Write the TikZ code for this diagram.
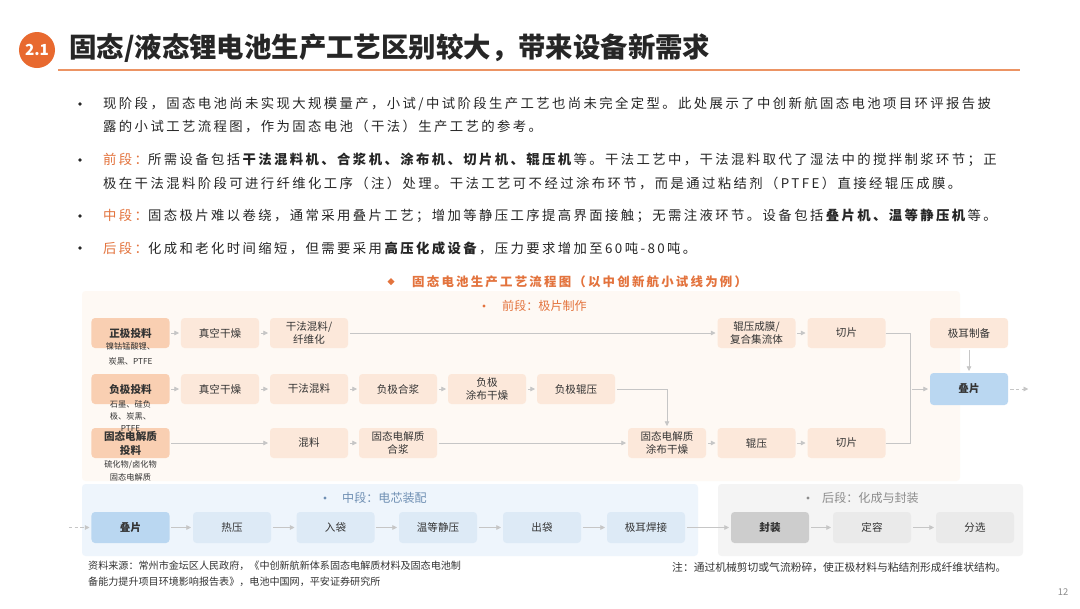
\documentclass[tikz,border=0pt]{standalone}
\usepackage{fontspec}
\setmainfont{Noto Sans CJK SC}
\newfontfamily\spacedcjk{Noto Sans CJK SC}[LetterSpace=18]
\usepackage{tikz}
\usetikzlibrary{arrows.meta}
\usepackage{xcolor}

\definecolor{brandorange}{HTML}{E8692F}
\definecolor{ruleorange}{HTML}{EC9464}
\definecolor{labelorange}{HTML}{E3733D}
\definecolor{cream}{HTML}{FEF9F4}
\definecolor{peach}{HTML}{FCE8DA}
\definecolor{peachdark}{HTML}{F9CFB2}
\definecolor{paleblue}{HTML}{EEF5FC}
\definecolor{cellblue}{HTML}{DDEAF6}
\definecolor{cellbluedark}{HTML}{BAD7F1}
\definecolor{palegrey}{HTML}{F4F4F4}
\definecolor{cellgrey}{HTML}{EAEAEA}
\definecolor{cellgreydark}{HTML}{CDCDCD}
\definecolor{linegrey}{HTML}{C6C6C6}
\definecolor{bodytext}{HTML}{262626}
\definecolor{boxtext}{HTML}{333333}
\definecolor{midlabel}{HTML}{6F8FB3}
\definecolor{backlabel}{HTML}{8C8C8C}

\begin{document}
\begin{tikzpicture}[x=0.03cm, y=-0.03cm,
    stepbox/.style={fill=peach, rounded corners=3pt, minimum width=2.34cm,
      minimum height=0.9cm, inner sep=1pt, align=center, text=boxtext,
      font=\fontsize{9}{11}\selectfont},
    feedbox/.style={stepbox, fill=peachdark, font=\fontsize{9}{12}\selectfont\bfseries},
    feednote/.style={align=center, inner sep=0pt, text=boxtext},
    cellbox/.style={stepbox, fill=cellblue, minimum height=0.93cm},
    backbox/.style={stepbox, fill=cellgrey, minimum height=0.93cm},
    bulletline/.style={anchor=west, inner sep=0pt, text=bodytext,
      font=\spacedcjk\fontsize{11.4}{14}\selectfont},
    flow/.style={draw=linegrey, line width=0.7pt, shorten <=1.5pt, shorten >=1.5pt,
      -{Triangle[length=4pt, width=4pt]}},
    joint/.style={draw=linegrey, line width=0.7pt}
    ]

    \fill[white] (0,0) rectangle (1080,608);
    \useasboundingbox (0,0) rectangle (1080,608);

    \node[circle, fill=brandorange, minimum size=1.08cm, inner sep=0pt, text=white,
      font=\fontsize{13}{15}\selectfont\bfseries] (secno) at (37,50) {2.1};
    \node[anchor=west, inner sep=0pt, text=bodytext,
      font=\fontsize{23.4}{28}\selectfont\bfseries] (title) at (69,48)
      {固态/液态锂电池生产工艺区别较大，带来设备新需求};
    \draw[ruleorange, line width=1.1pt] (58,70) -- (1020,70);

    \fill[bodytext] (80,104) circle (1.6pt);
    \fill[bodytext] (80,160) circle (1.6pt);
    \fill[bodytext] (80,216) circle (1.6pt);
    \fill[bodytext] (80,248) circle (1.6pt);
    \node[bulletline] (b1a) at (103,104) {现阶段，固态电池尚未实现大规模量产，小试/中试阶段生产工艺也尚未完全定型。此处展示了中创新航固态电池项目环评报告披};
    \node[bulletline] (b1b) at (103,126) {露的小试工艺流程图，作为固态电池（干法）生产工艺的参考。};
    \node[bulletline] (b2a) at (103,160) {\textcolor{labelorange}{前段：}所需设备包括\textbf{干法混料机、合浆机、涂布机、切片机、辊压机}等。干法工艺中，干法混料取代了湿法中的搅拌制浆环节；正};
    \node[bulletline] (b2b) at (103,183) {极在干法混料阶段可进行纤维化工序（注）处理。干法工艺可不经过涂布环节，而是通过粘结剂（PTFE）直接经辊压成膜。};
    \node[bulletline] (b3) at (103,216) {\textcolor{labelorange}{中段：}固态极片难以卷绕，通常采用叠片工艺；增加等静压工序提高界面接触；无需注液环节。设备包括\textbf{叠片机、温等静压机}等。};
    \node[bulletline] (b4) at (103,248) {\textcolor{labelorange}{后段：}化成和老化时间缩短，但需要采用\textbf{高压化成设备}，压力要求增加至60吨-80吨。};

    \fill[labelorange] (391,278) -- (394.5,281.5) -- (391,285) -- (387.5,281.5) -- cycle;
    \node[anchor=west, inner sep=0pt, text=labelorange,
      font=\spacedcjk\fontsize{10.6}{12}\selectfont\bfseries] (flowtitle) at (412,281.5)
      {固态电池生产工艺流程图（以中创新航小试线为例）};

    \fill[cream, rounded corners=3pt] (82,291) rectangle (960,481);
    \fill[paleblue, rounded corners=3pt] (82,484) rectangle (698,556);
    \fill[palegrey, rounded corners=3pt] (718,484) rectangle (1023,556);

    \fill[labelorange] (484,306) circle (1.3pt);
    \node[anchor=west, inner sep=0pt, text=labelorange,
      font=\fontsize{10.3}{12}\selectfont] (stagefront) at (502,306) {前段：极片制作};
    \fill[midlabel] (325,498) circle (1.3pt);
    \node[anchor=west, inner sep=0pt, text=midlabel,
      font=\fontsize{10.3}{12}\selectfont] (stagemid) at (342,498) {中段：电芯装配};
    \fill[backlabel] (808,498) circle (1.3pt);
    \node[anchor=west, inner sep=0pt, text=backlabel,
      font=\fontsize{10.3}{12}\selectfont] (stageback) at (822,498) {后段：化成与封装};

    \node[feedbox] (P1) at (130.5,333) {正极投料};
    \node[feednote, font=\fontsize{7}{12.8}\selectfont] (P1note) at (130.5,354) {镍钴锰酸锂、\\炭黑、PTFE};
    \node[stepbox] (V1) at (220,333) {真空干燥};
    \node[stepbox] (M1) at (309,333) {干法混料/\\纤维化};
    \node[stepbox] (R1) at (756.5,333) {辊压成膜/\\复合集流体};
    \node[stepbox] (C1) at (846.5,333) {切片};
    \node[stepbox] (T) at (969,333) {极耳制备};
    \node[stepbox, fill=cellbluedark, font=\fontsize{9}{11}\selectfont\bfseries,
      minimum height=0.96cm] (S) at (969,389) {叠片};

    \node[feedbox] (P2) at (130.5,389) {负极投料};
    \node[stepbox] (V2) at (220,389) {真空干燥};
    \node[stepbox] (M2) at (309,389) {干法混料};
    \node[stepbox] (A2) at (398,389) {负极合浆};
    \node[stepbox] (D2) at (487,389) {负极\\涂布干燥};
    \node[stepbox] (R2) at (576,389) {负极辊压};

    \node[feedbox] (P3) at (130.5,443) {固态电解质\\投料};
    \node[feednote, font=\fontsize{7}{10.6}\selectfont] (P2note) at (130.5,416) {石墨、硅负\\极、炭黑、\\PTFE};
    \node[feednote, font=\fontsize{7}{11}\selectfont] (P3note) at (130.5,470.5) {硫化物/卤化物\\固态电解质};
    \node[stepbox] (M3) at (309,443) {混料};
    \node[stepbox] (A3) at (398,443) {固态电解质\\合浆};
    \node[stepbox] (D3) at (667,443) {固态电解质\\涂布干燥};
    \node[stepbox] (R3) at (756.5,443) {辊压};
    \node[stepbox] (C3) at (846.5,443) {切片};

    \coordinate (J) at (910,389);
    \coordinate (Send) at (1030,389);

    \draw[flow] (P1) -- (V1);
    \draw[flow] (V1) -- (M1);
    \draw[flow] (M1) -- (R1);
    \draw[flow] (R1) -- (C1);
    \draw[joint] (C1.east) -| (J);
    \draw[joint] (C3.east) -| (J);
    \draw[flow] (J) -- (S);
    \draw[flow] (T) -- (S);
    \draw[flow, dash pattern=on 3pt off 2pt] (S) -- (Send);

    \draw[flow] (P2) -- (V2);
    \draw[flow] (V2) -- (M2);
    \draw[flow] (M2) -- (A2);
    \draw[flow] (A2) -- (D2);
    \draw[flow] (D2) -- (R2);
    \draw[flow] (R2.east) -| (D3.north);

    \draw[flow] (P3) -- (M3);
    \draw[flow] (M3) -- (A3);
    \draw[flow] (A3) -- (D3);
    \draw[flow] (D3) -- (R3);
    \draw[flow] (R3) -- (C3);

    \node[cellbox, fill=cellbluedark, font=\fontsize{9}{11}\selectfont\bfseries] (S2) at (130.5,527.5) {叠片};
    \node[cellbox] (H) at (232,527.5) {热压};
    \node[cellbox] (B) at (335.5,527.5) {入袋};
    \node[cellbox] (I) at (438,527.5) {温等静压};
    \node[cellbox] (O) at (542,527.5) {出袋};
    \node[cellbox] (W) at (646,527.5) {极耳焊接};
    \node[backbox, fill=cellgreydark, font=\fontsize{9}{11}\selectfont\bfseries] (F) at (770,527.5) {封装};
    \node[backbox] (K) at (872,527.5) {定容};
    \node[backbox] (X) at (975,527.5) {分选};

    \coordinate (Sin) at (67,527.5);
    \draw[flow, dash pattern=on 3pt off 2pt] (Sin) -- (S2);
    \draw[flow] (S2) -- (H);
    \draw[flow] (H) -- (B);
    \draw[flow] (B) -- (I);
    \draw[flow] (I) -- (O);
    \draw[flow] (O) -- (W);
    \draw[flow] (W) -- (F);
    \draw[flow] (F) -- (K);
    \draw[flow] (K) -- (X);

    \node[anchor=north west, inner sep=0pt, align=left, text=boxtext,
      font=\fontsize{8.6}{13}\selectfont] (source) at (88,561)
      {资料来源：常州市金坛区人民政府，《中创新航新体系固态电解质材料及固态电池制\\备能力提升项目环境影响报告表》，电池中国网，平安证券研究所};
    \node[anchor=west, inner sep=0pt, text=boxtext,
      font=\fontsize{9.2}{11}\selectfont] (remark) at (672,568)
      {注：通过机械剪切或气流粉碎，使正极材料与粘结剂形成纤维状结构。};
    \node[inner sep=0pt, text=backlabel, font=\fontsize{8}{10}\selectfont] (pageno) at (1063,592) {12};

\end{tikzpicture}
\end{document}
